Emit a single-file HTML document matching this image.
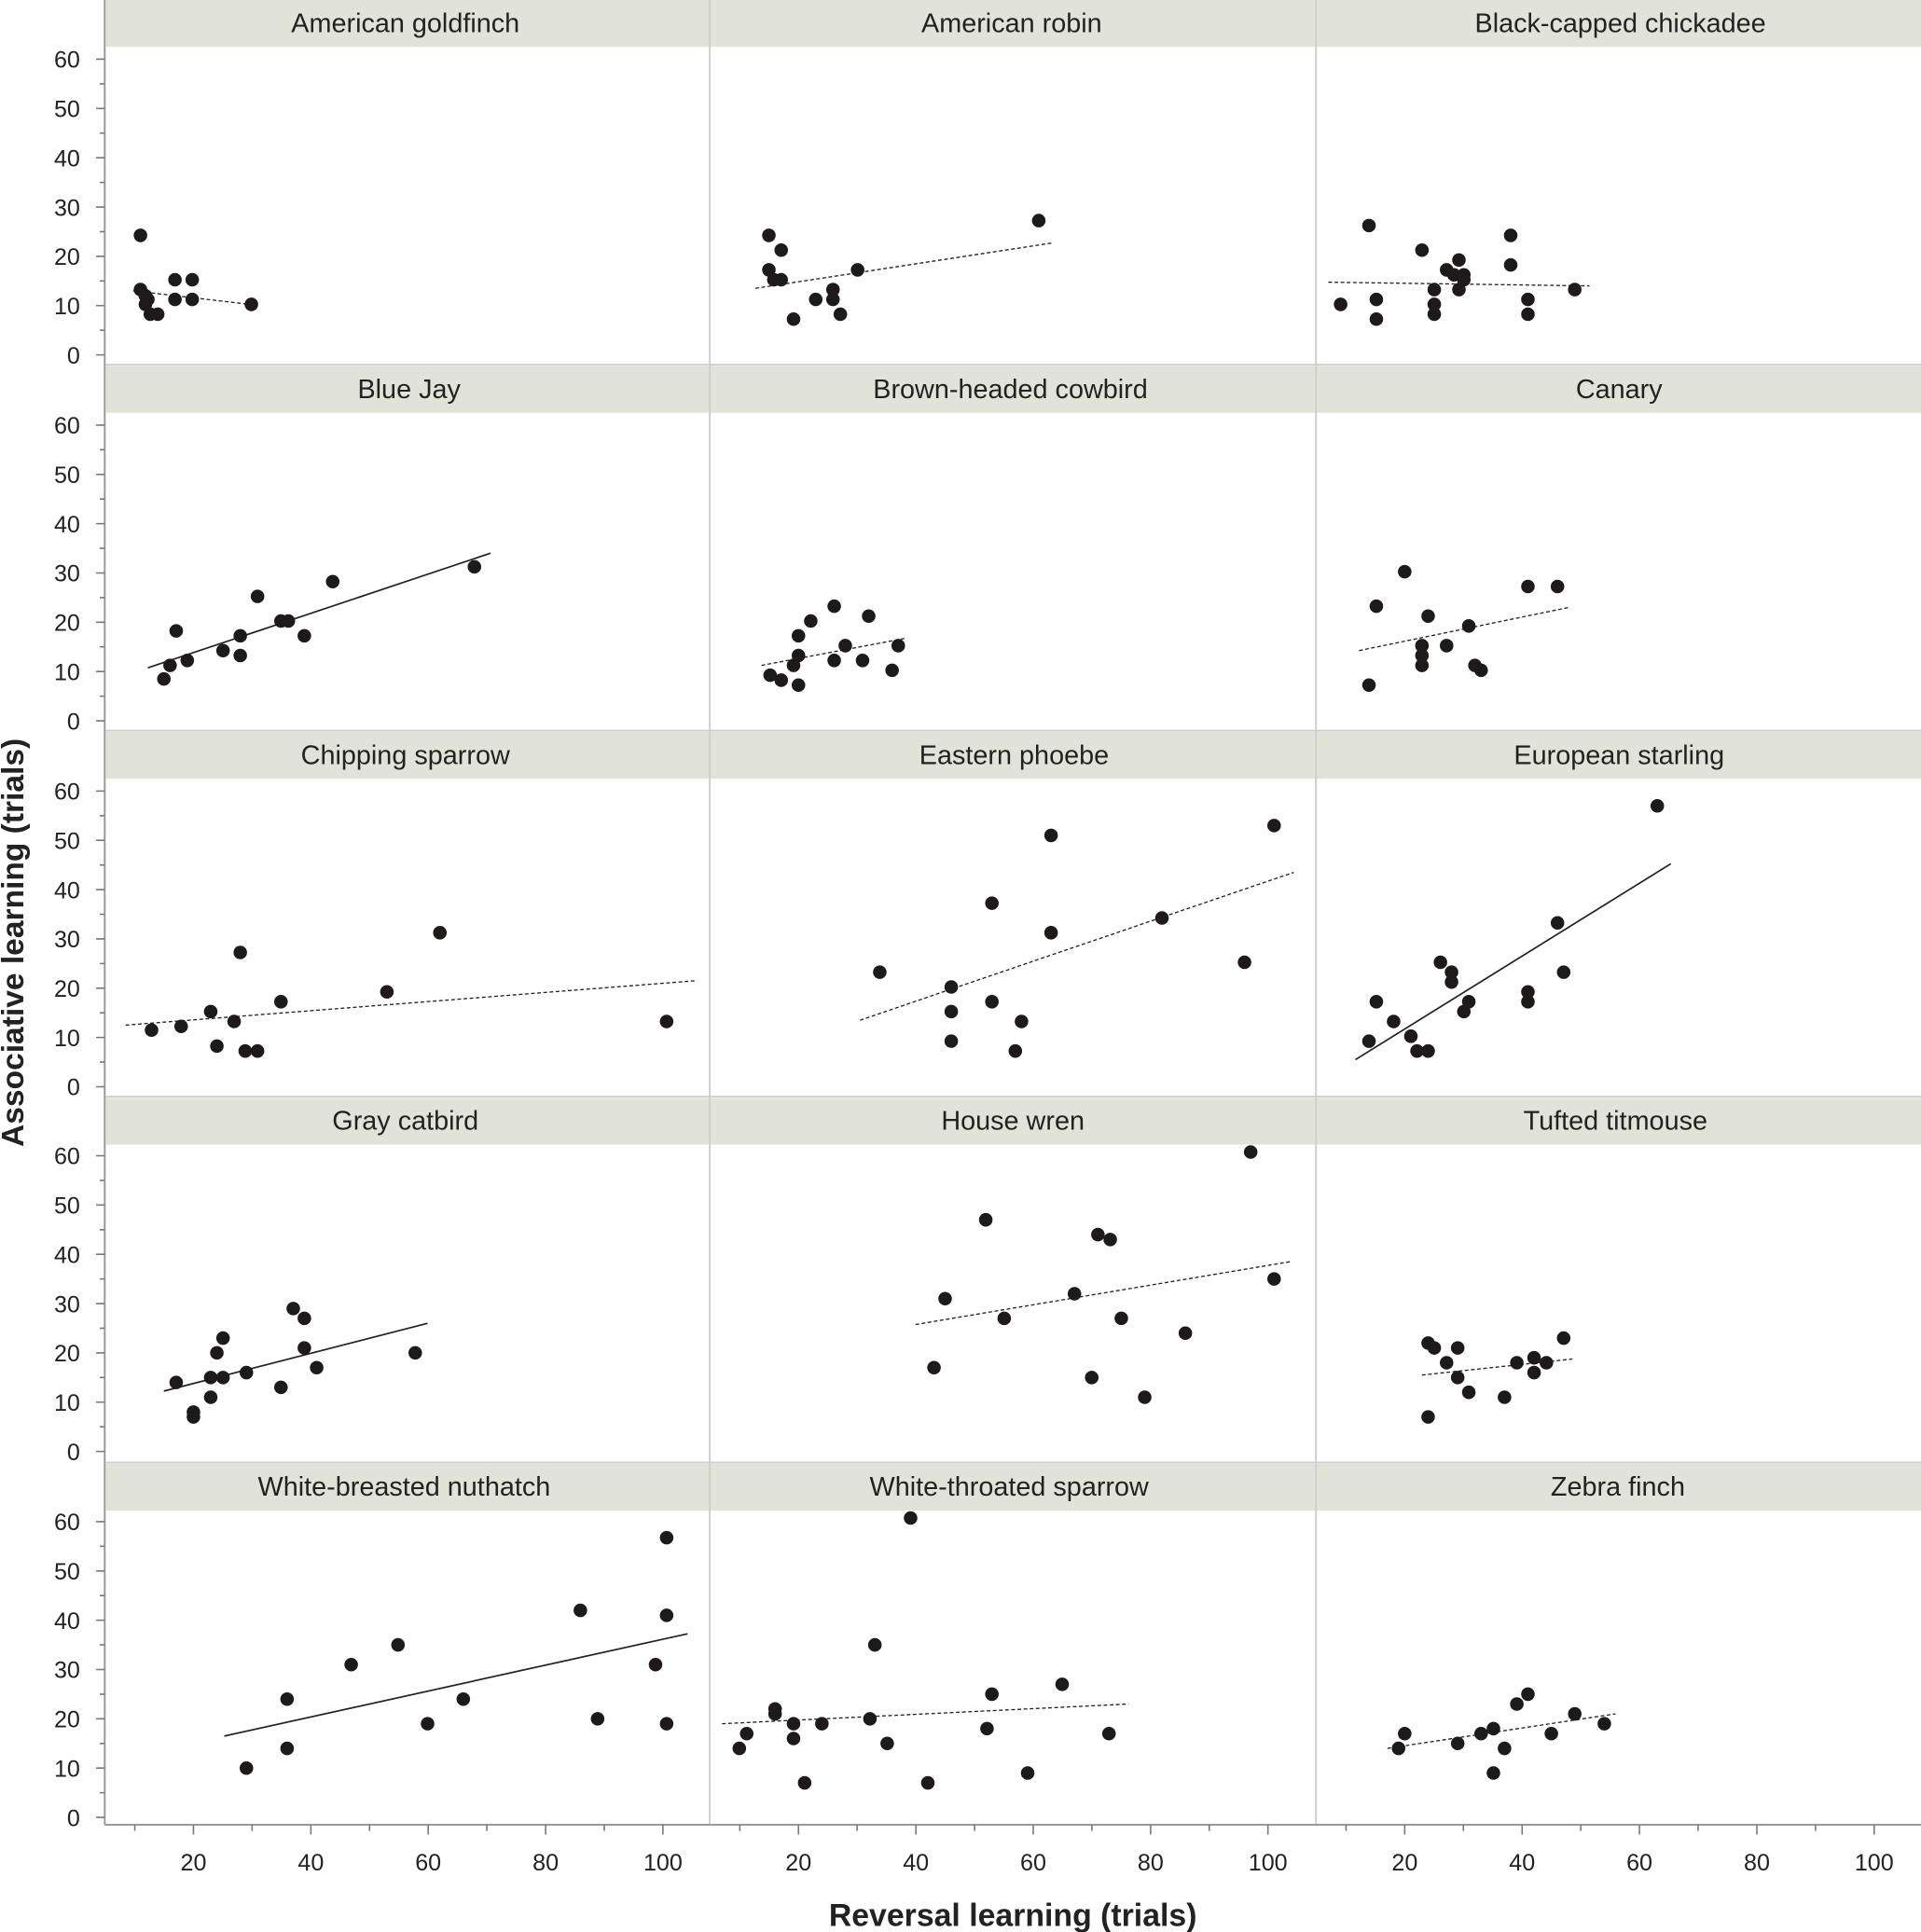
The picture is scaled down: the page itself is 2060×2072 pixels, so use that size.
<!DOCTYPE html>
<html><head><meta charset="utf-8"><style>
html,body{margin:0;padding:0;background:#fff}
svg{display:block}
text{font-family:"Liberation Sans",Arial,sans-serif;fill:#222}
</style></head><body>
<svg width="2060" height="2072" viewBox="0 0 1559 1568" xmlns="http://www.w3.org/2000/svg">
<rect width="1559" height="1568" fill="#fff"/>
<g fill="#e1e3d8">
<rect x="86" y="0" width="1473" height="38"/>
<rect x="86" y="297" width="1473" height="38"/>
<rect x="86" y="594" width="1473" height="38"/>
<rect x="86" y="891" width="1473" height="38"/>
<rect x="86" y="1188" width="1473" height="38"/>
</g>
<g stroke="#cfcfcf" stroke-width="1.5">
<line x1="576" y1="0" x2="576" y2="1481"/>
<line x1="1068" y1="0" x2="1068" y2="1481"/>
<line x1="86" y1="296" x2="1559" y2="296"/>
<line x1="86" y1="593" x2="1559" y2="593"/>
<line x1="86" y1="890" x2="1559" y2="890"/>
<line x1="86" y1="1187" x2="1559" y2="1187"/>
</g>
<g font-size="21.8" text-anchor="middle">
<text x="329" y="26">American goldfinch</text>
<text x="821" y="26">American robin</text>
<text x="1315" y="26">Black-capped chickadee</text>
<text x="332" y="323">Blue Jay</text>
<text x="820" y="323">Brown-headed cowbird</text>
<text x="1314" y="323">Canary</text>
<text x="329" y="620">Chipping sparrow</text>
<text x="823" y="620">Eastern phoebe</text>
<text x="1314" y="620">European starling</text>
<text x="329" y="917">Gray catbird</text>
<text x="822" y="917">House wren</text>
<text x="1311" y="917">Tufted titmouse</text>
<text x="328" y="1214">White-breasted nuthatch</text>
<text x="819" y="1214">White-throated sparrow</text>
<text x="1313" y="1214">Zebra finch</text>
</g>
<g stroke="#999" stroke-width="1.5" fill="none">
<line x1="85" y1="0" x2="85" y2="1481"/>
<line x1="85" y1="1481" x2="1559" y2="1481"/>
</g>
<g stroke="#777" stroke-width="1.2" fill="none">
<path d="M78 288H85M81 268H85M78 248H85M81 228H85M78 208H85M81 188H85M78 168H85M81 148H85M78 128H85M81 108H85M78 88H85M81 68H85M78 48H85"/>
<path transform="translate(0,297)" d="M78 288H85M81 268H85M78 248H85M81 228H85M78 208H85M81 188H85M78 168H85M81 148H85M78 128H85M81 108H85M78 88H85M81 68H85M78 48H85"/>
<path transform="translate(0,594)" d="M78 288H85M81 268H85M78 248H85M81 228H85M78 208H85M81 188H85M78 168H85M81 148H85M78 128H85M81 108H85M78 88H85M81 68H85M78 48H85"/>
<path transform="translate(0,890)" d="M78 288H85M81 268H85M78 248H85M81 228H85M78 208H85M81 188H85M78 168H85M81 148H85M78 128H85M81 108H85M78 88H85M81 68H85M78 48H85"/>
<path transform="translate(0,1187)" d="M78 288H85M81 268H85M78 248H85M81 228H85M78 208H85M81 188H85M78 168H85M81 148H85M78 128H85M81 108H85M78 88H85M81 68H85M78 48H85"/>
<path d="M109.4 1481V1486M157 1481V1489M204.6 1481V1486M252.3 1481V1489M299.9 1481V1486M347.5 1481V1489M395.1 1481V1486M442.8 1481V1489M490.4 1481V1486M538 1481V1489"/>
<path transform="translate(491,0)" d="M109.4 1481V1486M157 1481V1489M204.6 1481V1486M252.3 1481V1489M299.9 1481V1486M347.5 1481V1489M395.1 1481V1486M442.8 1481V1489M490.4 1481V1486M538 1481V1489"/>
<path transform="translate(983,0)" d="M109.4 1481V1486M157 1481V1489M204.6 1481V1486M252.3 1481V1489M299.9 1481V1486M347.5 1481V1489M395.1 1481V1486M442.8 1481V1489M490.4 1481V1486M538 1481V1489"/>
</g>
<g font-size="19" text-anchor="end">
<g><text x="65" y="295">0</text><text x="65" y="255">10</text><text x="65" y="215">20</text><text x="65" y="175">30</text><text x="65" y="135">40</text><text x="65" y="95">50</text><text x="65" y="55">60</text></g>
<g transform="translate(0,297)"><text x="65" y="295">0</text><text x="65" y="255">10</text><text x="65" y="215">20</text><text x="65" y="175">30</text><text x="65" y="135">40</text><text x="65" y="95">50</text><text x="65" y="55">60</text></g>
<g transform="translate(0,594)"><text x="65" y="295">0</text><text x="65" y="255">10</text><text x="65" y="215">20</text><text x="65" y="175">30</text><text x="65" y="135">40</text><text x="65" y="95">50</text><text x="65" y="55">60</text></g>
<g transform="translate(0,890)"><text x="65" y="295">0</text><text x="65" y="255">10</text><text x="65" y="215">20</text><text x="65" y="175">30</text><text x="65" y="135">40</text><text x="65" y="95">50</text><text x="65" y="55">60</text></g>
<g transform="translate(0,1187)"><text x="65" y="295">0</text><text x="65" y="255">10</text><text x="65" y="215">20</text><text x="65" y="175">30</text><text x="65" y="135">40</text><text x="65" y="95">50</text><text x="65" y="55">60</text></g>
</g>
<g font-size="19" text-anchor="middle">
<g><text x="157" y="1518">20</text><text x="252.3" y="1518">40</text><text x="347.5" y="1518">60</text><text x="442.8" y="1518">80</text><text x="538" y="1518">100</text></g>
<g transform="translate(491,0)"><text x="157" y="1518">20</text><text x="252.3" y="1518">40</text><text x="347.5" y="1518">60</text><text x="442.8" y="1518">80</text><text x="538" y="1518">100</text></g>
<g transform="translate(983,0)"><text x="157" y="1518">20</text><text x="252.3" y="1518">40</text><text x="347.5" y="1518">60</text><text x="442.8" y="1518">80</text><text x="538" y="1518">100</text></g>
</g>
<text x="822" y="1563" font-size="25.6" font-weight="bold" text-anchor="middle">Reversal learning (trials)</text>
<text transform="translate(19,765) rotate(-90)" font-size="25.4" font-weight="bold" text-anchor="middle">Associative learning (trials)</text>
<g stroke="#222" stroke-width="1" fill="none" stroke-dasharray="3,2">
<line x1="108" y1="236" x2="203" y2="247"/>
<line x1="613" y1="234" x2="855" y2="197"/>
<line x1="1078" y1="229" x2="1290" y2="232"/>
<line x1="618" y1="540" x2="735" y2="518"/>
<line x1="1103" y1="528" x2="1273" y2="493"/>
<line x1="102" y1="832" x2="564" y2="796"/>
<line x1="698" y1="828" x2="1050" y2="708"/>
<line x1="743" y1="1075" x2="1047" y2="1024"/>
<line x1="1154" y1="1116" x2="1276" y2="1103"/>
<line x1="586" y1="1399" x2="916" y2="1383"/>
<line x1="1126" y1="1419" x2="1311" y2="1391"/>
</g>
<g stroke="#222" stroke-width="1.3" fill="none">
<line x1="120" y1="542" x2="398" y2="449"/>
<line x1="1100" y1="860" x2="1356" y2="701"/>
<line x1="133" y1="1129" x2="347" y2="1074"/>
<line x1="182" y1="1409" x2="558" y2="1326"/>
</g>
<g fill="#1e1a1a">
<circle cx="114" cy="191" r="5.5"/><circle cx="114" cy="235" r="5.5"/><circle cx="118" cy="240" r="5.5"/><circle cx="120" cy="243" r="5.5"/><circle cx="118" cy="247" r="5.5"/><circle cx="122" cy="255" r="5.5"/><circle cx="128" cy="255" r="5.5"/><circle cx="142" cy="227" r="5.5"/><circle cx="142" cy="243" r="5.5"/><circle cx="156" cy="227" r="5.5"/><circle cx="156" cy="243" r="5.5"/><circle cx="204" cy="247" r="5.5"/>
<circle cx="624" cy="191" r="5.5"/><circle cx="624" cy="219" r="5.5"/><circle cx="634" cy="203" r="5.5"/><circle cx="628" cy="227" r="5.5"/><circle cx="634" cy="227" r="5.5"/><circle cx="644" cy="259" r="5.5"/><circle cx="662" cy="243" r="5.5"/><circle cx="676" cy="235" r="5.5"/><circle cx="676" cy="243" r="5.5"/><circle cx="682" cy="255" r="5.5"/><circle cx="696" cy="219" r="5.5"/><circle cx="843" cy="179" r="5.5"/>
<circle cx="1111" cy="183" r="5.5"/><circle cx="1088" cy="247" r="5.5"/><circle cx="1117" cy="243" r="5.5"/><circle cx="1117" cy="259" r="5.5"/><circle cx="1154" cy="203" r="5.5"/><circle cx="1164" cy="235" r="5.5"/><circle cx="1164" cy="247" r="5.5"/><circle cx="1164" cy="255" r="5.5"/><circle cx="1174" cy="219" r="5.5"/><circle cx="1180" cy="223" r="5.5"/><circle cx="1184" cy="211" r="5.5"/><circle cx="1188" cy="223" r="5.5"/><circle cx="1188" cy="227" r="5.5"/><circle cx="1184" cy="235" r="5.5"/><circle cx="1226" cy="191" r="5.5"/><circle cx="1226" cy="215" r="5.5"/><circle cx="1240" cy="243" r="5.5"/><circle cx="1240" cy="255" r="5.5"/><circle cx="1278" cy="235" r="5.5"/>
<circle cx="133" cy="551" r="5.5"/><circle cx="138" cy="540" r="5.5"/><circle cx="143" cy="512" r="5.5"/><circle cx="152" cy="536" r="5.5"/><circle cx="181" cy="528" r="5.5"/><circle cx="209" cy="484" r="5.5"/><circle cx="195" cy="516" r="5.5"/><circle cx="195" cy="532" r="5.5"/><circle cx="228" cy="504" r="5.5"/><circle cx="234" cy="504" r="5.5"/><circle cx="247" cy="516" r="5.5"/><circle cx="270" cy="472" r="5.5"/><circle cx="385" cy="460" r="5.5"/>
<circle cx="625" cy="548" r="5.5"/><circle cx="634" cy="552" r="5.5"/><circle cx="644" cy="540" r="5.5"/><circle cx="648" cy="516" r="5.5"/><circle cx="648" cy="532" r="5.5"/><circle cx="648" cy="556" r="5.5"/><circle cx="658" cy="504" r="5.5"/><circle cx="677" cy="492" r="5.5"/><circle cx="677" cy="536" r="5.5"/><circle cx="686" cy="524" r="5.5"/><circle cx="700" cy="536" r="5.5"/><circle cx="705" cy="500" r="5.5"/><circle cx="724" cy="544" r="5.5"/><circle cx="729" cy="524" r="5.5"/>
<circle cx="1111" cy="556" r="5.5"/><circle cx="1117" cy="492" r="5.5"/><circle cx="1140" cy="464" r="5.5"/><circle cx="1154" cy="524" r="5.5"/><circle cx="1154" cy="532" r="5.5"/><circle cx="1154" cy="540" r="5.5"/><circle cx="1159" cy="500" r="5.5"/><circle cx="1174" cy="524" r="5.5"/><circle cx="1192" cy="508" r="5.5"/><circle cx="1197" cy="540" r="5.5"/><circle cx="1202" cy="544" r="5.5"/><circle cx="1240" cy="476" r="5.5"/><circle cx="1264" cy="476" r="5.5"/>
<circle cx="123" cy="836" r="5.5"/><circle cx="147" cy="833" r="5.5"/><circle cx="171" cy="821" r="5.5"/><circle cx="176" cy="849" r="5.5"/><circle cx="190" cy="829" r="5.5"/><circle cx="195" cy="773" r="5.5"/><circle cx="199" cy="853" r="5.5"/><circle cx="209" cy="853" r="5.5"/><circle cx="228" cy="813" r="5.5"/><circle cx="314" cy="805" r="5.5"/><circle cx="357" cy="757" r="5.5"/><circle cx="541" cy="829" r="5.5"/>
<circle cx="714" cy="789" r="5.5"/><circle cx="772" cy="801" r="5.5"/><circle cx="772" cy="821" r="5.5"/><circle cx="772" cy="845" r="5.5"/><circle cx="805" cy="733" r="5.5"/><circle cx="805" cy="813" r="5.5"/><circle cx="824" cy="853" r="5.5"/><circle cx="829" cy="829" r="5.5"/><circle cx="853" cy="678" r="5.5"/><circle cx="853" cy="757" r="5.5"/><circle cx="943" cy="745" r="5.5"/><circle cx="1010" cy="781" r="5.5"/><circle cx="1034" cy="670" r="5.5"/>
<circle cx="1111" cy="845" r="5.5"/><circle cx="1117" cy="813" r="5.5"/><circle cx="1131" cy="829" r="5.5"/><circle cx="1145" cy="841" r="5.5"/><circle cx="1150" cy="853" r="5.5"/><circle cx="1159" cy="853" r="5.5"/><circle cx="1169" cy="781" r="5.5"/><circle cx="1178" cy="789" r="5.5"/><circle cx="1178" cy="797" r="5.5"/><circle cx="1188" cy="821" r="5.5"/><circle cx="1192" cy="813" r="5.5"/><circle cx="1240" cy="805" r="5.5"/><circle cx="1240" cy="813" r="5.5"/><circle cx="1264" cy="749" r="5.5"/><circle cx="1269" cy="789" r="5.5"/><circle cx="1345" cy="654" r="5.5"/>
<circle cx="143" cy="1122" r="5.5"/><circle cx="157" cy="1146" r="5.5"/><circle cx="157" cy="1150" r="5.5"/><circle cx="171" cy="1134" r="5.5"/><circle cx="171" cy="1118" r="5.5"/><circle cx="176" cy="1098" r="5.5"/><circle cx="181" cy="1118" r="5.5"/><circle cx="181" cy="1086" r="5.5"/><circle cx="200" cy="1114" r="5.5"/><circle cx="228" cy="1126" r="5.5"/><circle cx="238" cy="1062" r="5.5"/><circle cx="247" cy="1070" r="5.5"/><circle cx="247" cy="1094" r="5.5"/><circle cx="257" cy="1110" r="5.5"/><circle cx="337" cy="1098" r="5.5"/>
<circle cx="758" cy="1110" r="5.5"/><circle cx="767" cy="1054" r="5.5"/><circle cx="800" cy="990" r="5.5"/><circle cx="815" cy="1070" r="5.5"/><circle cx="891" cy="1002" r="5.5"/><circle cx="901" cy="1006" r="5.5"/><circle cx="872" cy="1050" r="5.5"/><circle cx="910" cy="1070" r="5.5"/><circle cx="886" cy="1118" r="5.5"/><circle cx="929" cy="1134" r="5.5"/><circle cx="962" cy="1082" r="5.5"/><circle cx="1015" cy="935" r="5.5"/><circle cx="1034" cy="1038" r="5.5"/>
<circle cx="1159" cy="1150" r="5.5"/><circle cx="1159" cy="1090" r="5.5"/><circle cx="1164" cy="1094" r="5.5"/><circle cx="1174" cy="1106" r="5.5"/><circle cx="1183" cy="1094" r="5.5"/><circle cx="1183" cy="1118" r="5.5"/><circle cx="1192" cy="1130" r="5.5"/><circle cx="1221" cy="1134" r="5.5"/><circle cx="1231" cy="1106" r="5.5"/><circle cx="1245" cy="1102" r="5.5"/><circle cx="1245" cy="1114" r="5.5"/><circle cx="1255" cy="1106" r="5.5"/><circle cx="1269" cy="1086" r="5.5"/>
<circle cx="200" cy="1435" r="5.5"/><circle cx="233" cy="1379" r="5.5"/><circle cx="233" cy="1419" r="5.5"/><circle cx="285" cy="1351" r="5.5"/><circle cx="323" cy="1335" r="5.5"/><circle cx="347" cy="1399" r="5.5"/><circle cx="376" cy="1379" r="5.5"/><circle cx="471" cy="1307" r="5.5"/><circle cx="485" cy="1395" r="5.5"/><circle cx="532" cy="1351" r="5.5"/><circle cx="541" cy="1248" r="5.5"/><circle cx="541" cy="1311" r="5.5"/><circle cx="541" cy="1399" r="5.5"/>
<circle cx="600" cy="1419" r="5.5"/><circle cx="606" cy="1407" r="5.5"/><circle cx="629" cy="1387" r="5.5"/><circle cx="629" cy="1391" r="5.5"/><circle cx="644" cy="1399" r="5.5"/><circle cx="644" cy="1411" r="5.5"/><circle cx="653" cy="1447" r="5.5"/><circle cx="667" cy="1399" r="5.5"/><circle cx="706" cy="1395" r="5.5"/><circle cx="710" cy="1335" r="5.5"/><circle cx="720" cy="1415" r="5.5"/><circle cx="739" cy="1232" r="5.5"/><circle cx="753" cy="1447" r="5.5"/><circle cx="801" cy="1403" r="5.5"/><circle cx="805" cy="1375" r="5.5"/><circle cx="834" cy="1439" r="5.5"/><circle cx="862" cy="1367" r="5.5"/><circle cx="900" cy="1407" r="5.5"/>
<circle cx="1135" cy="1419" r="5.5"/><circle cx="1140" cy="1407" r="5.5"/><circle cx="1183" cy="1415" r="5.5"/><circle cx="1202" cy="1407" r="5.5"/><circle cx="1212" cy="1403" r="5.5"/><circle cx="1212" cy="1439" r="5.5"/><circle cx="1221" cy="1419" r="5.5"/><circle cx="1231" cy="1383" r="5.5"/><circle cx="1240" cy="1375" r="5.5"/><circle cx="1259" cy="1407" r="5.5"/><circle cx="1278" cy="1391" r="5.5"/><circle cx="1302" cy="1399" r="5.5"/>
</g>
</svg>
</body></html>
